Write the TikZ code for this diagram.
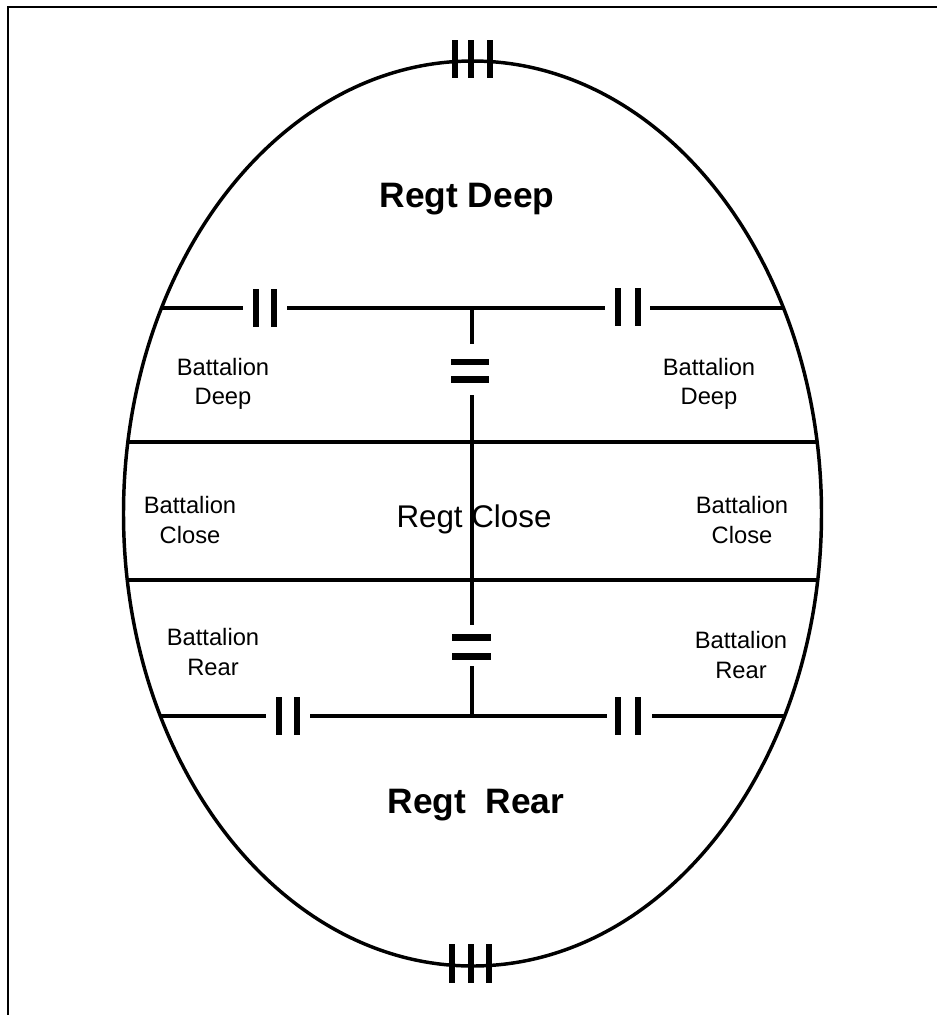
\documentclass[tikz,border=0pt]{standalone}
\usepackage{fontspec}
\setmainfont{Liberation Sans}

\begin{document}
\begin{tikzpicture}[x=0.75pt,y=0.75pt,yscale=-1,xscale=1,
    zoneline/.style={line width=2.3pt},
    echelon/.style={line width=5.2pt},
    battext/.style={inner sep=0.75pt,align=center,font=\fontsize{17.8}{22}\selectfont},
    regttext/.style={inner sep=0.75pt,align=center,font=\fontsize{23.5}{28}\selectfont},
    regtbold/.style={inner sep=0.75pt,align=center,font=\bfseries\fontsize{26.5}{30}\selectfont}]
    \useasboundingbox (0,0) rectangle (937,1015);

    %Shape: Frame [top and left edge]
    \draw  [line width=1.5pt] (8,1015) -- (8,7) -- (937,7) ;
    %Shape: Ellipse
    \draw  [line width=2.6pt] (472.5,513.5) ellipse (349 and 452.5) ;

    %Straight Lines [upper boundary]
    \draw  [zoneline] (161,308) -- (243,308) (287,308) -- (605,308) (650,308) -- (784,308) ;
    %Straight Lines [close zone]
    \draw  [zoneline] (127,442) -- (818,442) ;
    \draw  [zoneline] (127,580) -- (818,580) ;
    %Straight Lines [lower boundary]
    \draw  [zoneline] (160,716) -- (266,716) (310,716) -- (607,716) (652,716) -- (785,716) ;
    %Straight Lines [centre line]
    \draw  [zoneline] (472,308) -- (472,344) (472,395) -- (472,625) (472,666) -- (472,716) ;

    %Shape: III top and bottom
    \draw  [echelon] (455,40) -- (455,78) (471,40) -- (471,78) (490,40) -- (490,78) ;
    \draw  [echelon] (452,944) -- (452,983) (471,944) -- (471,983) (489,944) -- (489,983) ;
    %Shape: II upper boundary
    \draw  [echelon] (256,289) -- (256,327) (274,289) -- (274,327) ;
    \draw  [echelon] (618,288) -- (618,326) (638,288) -- (638,326) ;
    %Shape: II lower boundary
    \draw  [echelon] (279,697) -- (279,735) (297,697) -- (297,735) ;
    \draw  [echelon] (618,697) -- (618,735) (638,697) -- (638,735) ;
    %Shape: = centre line
    \draw  [echelon] (451,362) -- (489,362) (451,379.5) -- (489,379.5) ;
    \draw  [echelon] (452,637.5) -- (491,637.5) (452,656.5) -- (491,656.5) ;

    % Text Node
    \draw (467,199) node (regtdeep) [regtbold] {Regt Deep};
    % Text Node
    \draw (223,384) node (batdeepl) [battext] {Battalion\\Deep};
    % Text Node
    \draw (709,384) node (batdeepr) [battext] {Battalion\\Deep};
    % Text Node
    \draw (190,520) node (batclosel) [battext] {Battalion\\Close};
    % Text Node
    \draw (742,520) node (batcloser) [battext] {Battalion\\Close};
    % Text Node
    \draw (474,519) node (regtclose) [regttext] {Regt Close};
    % Text Node
    \draw (213,652) node (batrearl) [battext] {Battalion\\Rear};
    % Text Node
    \draw (741,655) node (batrearr) [battext] {Battalion\\Rear};
    % Text Node
    \draw (476,805) node (regtrear) [regtbold] {Regt\ \ Rear};

\end{tikzpicture}
\end{document}
